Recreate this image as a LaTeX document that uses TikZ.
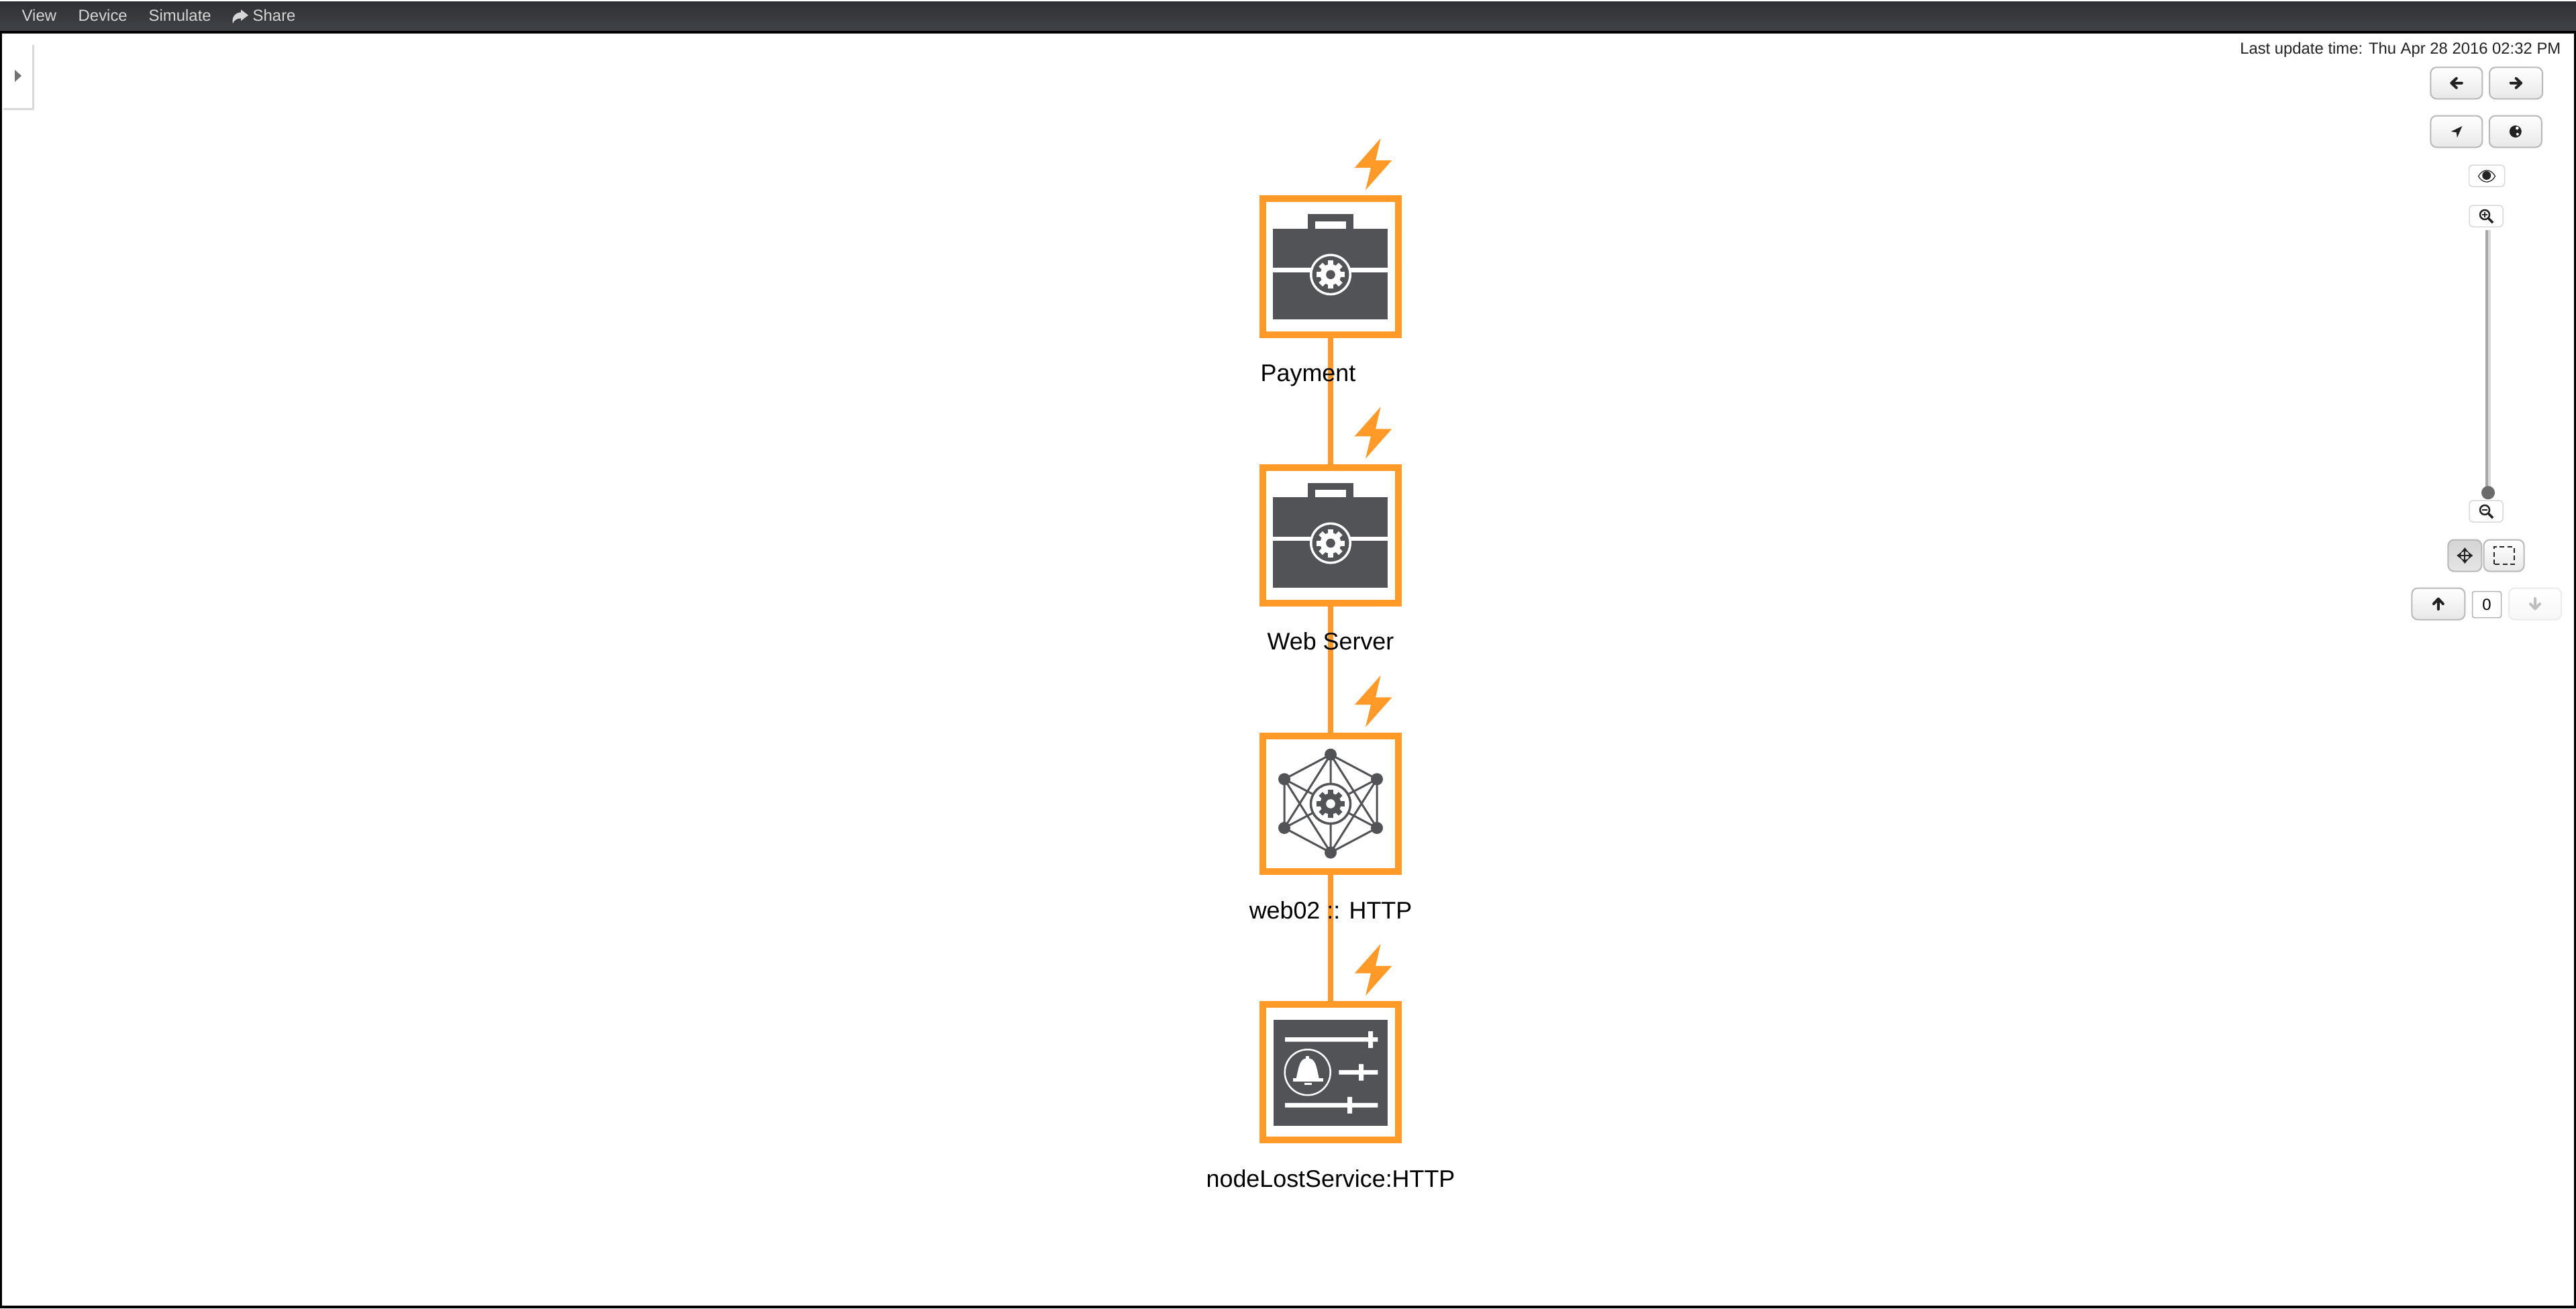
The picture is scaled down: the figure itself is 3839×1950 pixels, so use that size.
\documentclass[tikz,border=0pt]{standalone}
\usepackage{xcolor}
\usepackage{fontspec}
\setmainfont{Liberation Sans}
\usetikzlibrary{positioning,arrows.meta,shadows}
\definecolor{alertorange}{RGB}{255,154,41}
\definecolor{icongray}{RGB}{82,83,87}
\definecolor{glyphdark}{RGB}{34,34,34}
\definecolor{barTop}{RGB}{48,49,53}
\definecolor{barBottom}{RGB}{63,66,70}
\tikzset{
  gearcog/.pic={
    \fill circle (15.5);
    \foreach \a in {0,45,...,315} \fill[rotate=\a] (-4,-21) rectangle (4,-13);
  },
  bolt/.pic={
    \fill[alertorange] (74.7,-191.5) -- (35.7,-147.5) -- (60,-147.5) -- (52,-114.2)
      -- (91.3,-158.5) -- (67,-158.5) -- cycle;
  },
  briefcase/.pic={
    \fill[icongray] (-85.7,-56.5) rectangle (85.3,78.2);
    \fill[icongray] (-33.7,-78.2) rectangle (33.7,-56.5);
    \fill[white] (-23,-67.5) rectangle (23,-56.5);
    \fill[white] (-85.7,1.8) rectangle (85.3,8.2);
    \fill[white] (0,11.8) circle (31);
    \fill[icongray] (0,11.8) circle (27.5);
    \pic[white] at (0,11.8) {gearcog};
    \fill[icongray] (0,11.8) circle (6.8);
  },
  meshnet/.pic={
    \coordinate (t) at (0,-73.3);
    \coordinate (ur) at (69,-36.7);
    \coordinate (lr) at (69,36);
    \coordinate (b) at (0,72.7);
    \coordinate (ll) at (-69,36);
    \coordinate (ul) at (-69,-36.7);
    \draw[icongray, line width=.03cm] (t) -- (ur) -- (lr) -- (b) -- (ll) -- (ul) -- cycle
      (t) -- (ll) (t) -- (lr) (b) -- (ul) (b) -- (ur)
      (t) -- (b) (ul) -- (lr) (ur) -- (ll);
    \foreach \p in {t,ur,lr,b,ll,ul} \fill[icongray] (\p) circle (9);
    \draw[icongray, fill=white, line width=.035cm] (0,0) circle (29.5);
    \pic[icongray] at (0,0) {gearcog};
    \fill[white] (0,0) circle (6.8);
  },
  alarmpanel/.pic={
    \fill[icongray] (-84.7,-78.7) rectangle (84.7,79.3);
    \fill[white] (-68,-52) rectangle (70.3,-45.7) (56,-61) rectangle (63,-36.3);
    \fill[white] (12.3,-3.3) rectangle (70.3,3.3) (42,-12.3) rectangle (49,12.3);
    \fill[white] (-68,45.7) rectangle (70.3,52.3) (25,36.7) rectangle (32,61.3);
    \draw[white, line width=.025cm] (-34.3,0) circle (34);
    \fill[white] (-51.3,9) .. controls (-47,-10) and (-46,-21) .. (-34.3,-21)
      .. controls (-22.5,-21) and (-21.5,-10) .. (-17.3,9) -- cycle;
    \fill[white] (-36.7,-24.7) rectangle (-32,-19);
    \fill[white] (-56,8.7) rectangle (-11,13.3);
    \fill[white] (-39.3,15.3) rectangle (-28,19);
  },
  glyph/.style={draw=glyphdark, line width=.04cm, line join=round, line cap=round},
  fatarrow/.pic={
    \draw[glyph] (-8,0) -- (7.5,0) (0,-7) -- (7.5,0) -- (0,7);
  },
  lens/.pic={
    \draw[glyphdark, line width=.025cm] (-2,-2) circle (7);
    \draw[glyphdark, line width=.035cm] (3.5,3.5) -- (10,10);
  },
  box/.style={draw=alertorange, line width=.1cm, fill=white, minimum size=2.02cm, inner sep=0pt},
  link/.style={draw=alertorange, line width=.073cm},
  lbl/.style={anchor=base, inner sep=0pt, font=\fontsize{10.2}{12}\selectfont},
  menu/.style={anchor=base west, inner sep=0pt, text=black!16, font=\fontsize{6.8}{8}\selectfont},
  btn/.style={draw=black!28, line width=.02cm, rounded corners=.09cm, top color=white,
              bottom color=black!9, minimum height=.47cm, inner sep=0pt},
  smallbtn/.style={draw=black!15, line width=.015cm, fill=white, rounded corners=.05cm,
                   minimum width=.5cm, minimum height=.32cm, inner sep=0pt}
}
\begin{document}
\begin{tikzpicture}[x=0.01cm, y=-0.01cm]
  \useasboundingbox (0,0) rectangle (3839,1950);
  \fill[white] (0,0) rectangle (3839,1950);
  % toolbar and frame
  \fill[top color=barTop, bottom color=barBottom] (0,2) rectangle (3839,46);
  \draw[black, line width=.04cm] (1,48) -- (3838,48) -- (3838,1948) -- (1,1948) -- cycle;
  \node[menu] (view) at (32,31) {View};
  \node[menu] (device) at (116,31) {Device};
  \node[menu] (simulate) at (221,31) {Simulate};
  \node[menu] (share) at (376,31) {Share};
  \fill[black!16] (370,22.7) -- (359,14.3) -- (359,18.3) .. controls (350,19) and (345,26) .. (347,35)
    .. controls (349,30) and (353,27.3) .. (359,27.3) -- (359,31) -- cycle;
  % side handle
  \node[fill=white, drop shadow={shadow xshift=.025cm, shadow yshift=-.025cm, opacity=.3},
        minimum width=.45cm, minimum height=.96cm, inner sep=0pt] (handle) at (25.5,113) {};
  \fill[black!55] (22,104) -- (32,113) -- (22,122) -- cycle;
  % boxes
  \node[box] (payment) at (1983,397.5) {};
  \node[box, below=1.88cm of payment] (webserver) {};
  \node[box, below=1.88cm of webserver] (httpsvc) {};
  \node[box, below=1.88cm of httpsvc] (lostsvc) {};
  \draw[link] (payment) -- (webserver);
  \draw[link] (webserver) -- (httpsvc);
  \draw[link] (httpsvc) -- (lostsvc);
  \pic at (payment) {briefcase};
  \pic at (webserver) {briefcase};
  \pic at (httpsvc) {meshnet};
  \pic at (lostsvc) {alarmpanel};
  \foreach \n in {payment,webserver,httpsvc,lostsvc} \pic at (\n) {bolt};
  % labels
  \node[lbl] (paymenttxt) at ([xshift=-.335cm, yshift=-1.71cm]payment.center) {Payment};
  \node[lbl] (webservertxt) at ([yshift=-1.71cm]webserver.center) {Web Server};
  \node[lbl] (httpsvctxt) at ([yshift=-1.71cm]httpsvc.center) {web02 :: HTTP};
  \node[lbl] (lostsvctxt) at ([yshift=-1.71cm]lostsvc.center) {nodeLostService:HTTP};
  % controls on the right
  \node[anchor=base east, inner sep=0pt, text=glyphdark, font=\fontsize{6.78}{8}\selectfont] (updated)
    at (3817,80.7) {Last update time: Thu Apr 28 2016 02:32 PM};
  \node[btn, minimum width=.77cm] (back) at (3660.8,123.8) {};
  \node[btn, minimum width=.79cm] (forward) at (3749.6,123.8) {};
  \node[btn, minimum width=.77cm] (locate) at (3660.8,196) {};
  \node[btn, minimum width=.78cm] (globe) at (3748.8,196) {};
  \pic[rotate=180] at (back) {fatarrow};
  \pic at (forward) {fatarrow};
  \fill[glyphdark] ([xshift=.085cm, yshift=.08cm]locate.center) -- ++(-16.5,8) -- ++(8,1.3) -- ++(1,8) -- cycle;
  \fill[glyphdark] (globe.center) circle (9);
  \fill[white] ([xshift=.025cm, yshift=.05cm]globe.center) circle (2.4) ([xshift=.03cm, yshift=-.04cm]globe.center) circle (2);
  \node[smallbtn, minimum width=.53cm] (eye) at (3706,262) {};
  \draw[glyphdark, line width=.012cm] (3693.5,262.7) .. controls (3700,251) and (3712,251) .. (3718.5,262.7)
    .. controls (3712,274) and (3700,274) .. (3693.5,262.7) -- cycle;
  \fill[glyphdark] (3705.7,261.5) circle (6.5);
  \node[smallbtn] (zoomin) at (3705,322) {};
  \pic at (zoomin) {lens};
  \draw[glyphdark, line width=.015cm] (3699,320) -- (3707,320) (3703,316) -- (3703,324);
  \fill[black!35] (3704.3,343) rectangle (3708,730);
  \fill[black!15] (3708,343) rectangle (3711.7,730);
  \node[circle, fill=black!58, minimum size=.2cm, inner sep=0pt] (knob) at (3708,734.3) {};
  \node[smallbtn] (zoomout) at (3705,762) {};
  \pic at (zoomout) {lens};
  \draw[glyphdark, line width=.015cm] (3699,760) -- (3707,760);
  \node[btn, minimum width=.5cm, top color=black!17, bottom color=black!10] (pan) at (3673.3,828) {};
  \node[btn, minimum width=.6cm] (marquee) at (3731.5,828) {};
  \draw[glyphdark, line width=.02cm, {Stealth[length=2.2pt,width=3.4pt]}-{Stealth[length=2.2pt,width=3.4pt]}]
    ([xshift=-.12cm]pan.center) -- ([xshift=.12cm]pan.center);
  \draw[glyphdark, line width=.02cm, {Stealth[length=2.2pt,width=3.4pt]}-{Stealth[length=2.2pt,width=3.4pt]}]
    ([yshift=-.12cm]pan.center) -- ([yshift=.12cm]pan.center);
  \draw[glyphdark, line width=.02cm, dash pattern=on .07cm off .045cm]
    ([shift={(-.15cm,-.13cm)}]marquee.center) rectangle ([shift={(.15cm,.13cm)}]marquee.center);
  \node[btn, minimum width=.79cm] (layerup) at (3633.8,900) {};
  \node[draw=black!30, line width=.015cm, fill=white, rounded corners=.03cm, minimum width=.43cm,
        minimum height=.39cm, inner sep=0pt, font=\fontsize{6.8}{8}\selectfont] (layer) at (3706,901) {0};
  \node[btn, minimum width=.78cm, draw=black!8, bottom color=black!3] (layerdown) at (3778,900) {};
  \pic[rotate=90] at (layerup) {fatarrow};
  \begin{scope}[glyph/.append style={draw=black!25}]
    \pic[rotate=-90] at (layerdown) {fatarrow};
  \end{scope}
\end{tikzpicture}
\end{document}
